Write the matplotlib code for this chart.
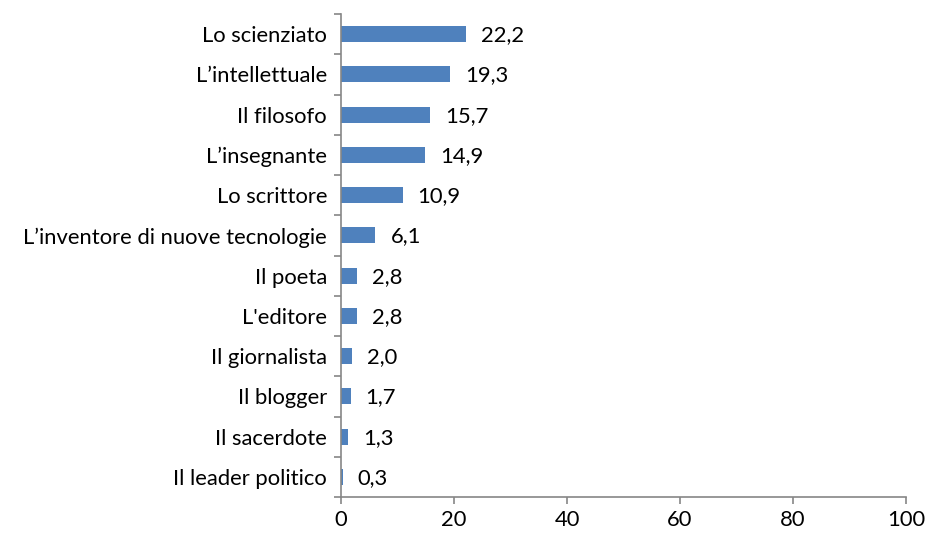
import matplotlib
matplotlib.use("Agg")
import matplotlib.pyplot as plt
from matplotlib.ticker import FixedLocator, NullFormatter

categories = ["Lo scienziato", "L\u2019intellettuale", "Il filosofo", "L\u2019insegnante",
              "Lo scrittore", "L\u2019inventore di nuove tecnologie", "Il poeta", "L'editore",
              "Il giornalista", "Il blogger", "Il sacerdote", "Il leader politico"]
values = [22.2, 19.3, 15.7, 14.9, 10.9, 6.1, 2.8, 2.8, 2.0, 1.7, 1.3, 0.3]
labels = ["22,2", "19,3", "15,7", "14,9", "10,9", "6,1", "2,8", "2,8", "2,0", "1,7", "1,3", "0,3"]
xticks = [0, 20, 40, 60, 80, 100]

FS = 15.8
plt.rcParams['font.family'] = ['Lato', 'DejaVu Sans']
fig = plt.figure(figsize=(9.25, 5.37), dpi=100)
ax = fig.add_axes([341/925, 1-497/537, (906-341)/925, (497-14)/537])

n = len(categories)
ypos = list(range(n))[::-1]
ax.barh(ypos, values, height=0.4, color="#4F81BD")
for y, v, l in zip(ypos, values, labels):
    ax.annotate(l, (v, y), xytext=(15, -1), textcoords="offset pixels",
                va="center", ha="left", fontsize=FS)

ax.set_xlim(0, 100)
ax.set_ylim(-0.5, n - 0.5)
ax.set_xticks(xticks)
ax.set_xticklabels([str(t) for t in xticks], fontsize=FS)
ax.yaxis.set_major_locator(FixedLocator([y - 0.5 for y in range(n + 1)]))
ax.yaxis.set_major_formatter(NullFormatter())
ax.yaxis.set_minor_locator(FixedLocator(ypos))
ax.set_yticklabels(categories, minor=True, fontsize=FS)
ax.tick_params(axis='y', which='minor', length=0, pad=10)
ax.tick_params(axis='y', which='major', length=5, color="#868686", width=1.2)
ax.tick_params(axis='x', length=5, color="#868686", width=1.2, pad=4)

for s in ["top", "right"]:
    ax.spines[s].set_visible(False)
for s in ["left", "bottom"]:
    ax.spines[s].set_color("#868686")
    ax.spines[s].set_linewidth(1.2)

fig.savefig("out.png", dpi=100)
